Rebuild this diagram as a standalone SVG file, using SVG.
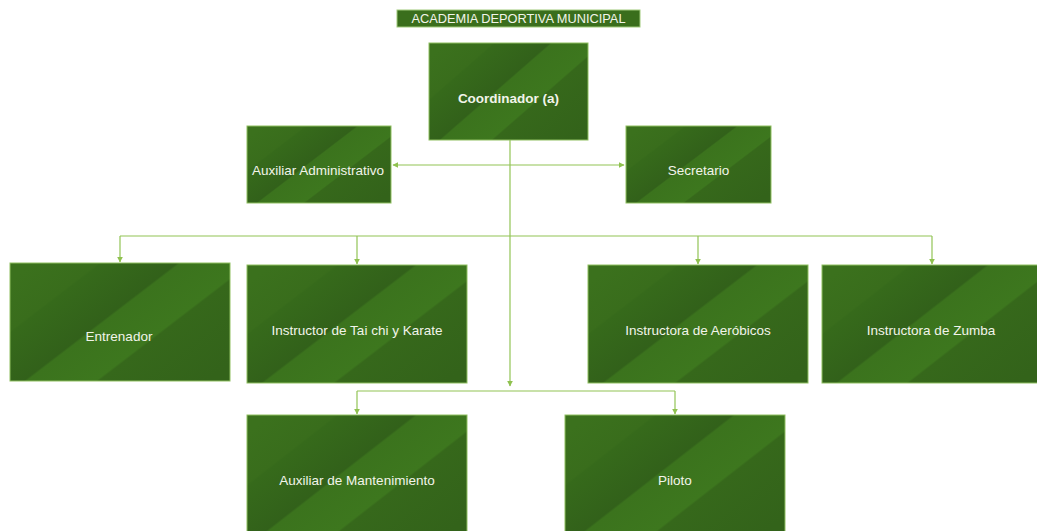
<svg xmlns="http://www.w3.org/2000/svg" width="1037" height="531" viewBox="0 0 1037 531">
<defs>
<linearGradient id="g" x1="0" y1="0.15" x2="1" y2="0.85">
<stop offset="0" stop-color="#3b711d"/>
<stop offset="0.2" stop-color="#396d1c"/>
<stop offset="0.21" stop-color="#366a1b"/>
<stop offset="0.44" stop-color="#32611a"/>
<stop offset="0.45" stop-color="#3b731d"/>
<stop offset="0.66" stop-color="#3d771e"/>
<stop offset="0.67" stop-color="#36681b"/>
<stop offset="1" stop-color="#33631a"/>
</linearGradient>
<marker id="ah" viewBox="0 0 10 10" refX="9" refY="5" markerWidth="5" markerHeight="5" orient="auto-start-reverse">
<path d="M0,0 L10,5 L0,10 Z" fill="#8fc14f"/>
</marker>
<style>
.box{fill:url(#g);stroke:#8fbf60;stroke-width:1}
.t{font-family:"Liberation Sans",Arial,sans-serif;font-size:13.5px;fill:#f2f4ea;text-anchor:middle;dominant-baseline:central}
.c{fill:none;stroke:#92c455;stroke-width:1.2}
</style>
</defs>
<rect width="1037" height="531" fill="#ffffff"/>
<g id="connectors">
<path class="c" d="M510,140 V386" marker-end="url(#ah)"/>
<path class="c" d="M393,165 H624" marker-start="url(#ah)" marker-end="url(#ah)"/>
<path class="c" d="M120,236 H932"/>
<path class="c" d="M120,236 V262" marker-end="url(#ah)"/>
<path class="c" d="M357,236 V264" marker-end="url(#ah)"/>
<path class="c" d="M698,236 V264" marker-end="url(#ah)"/>
<path class="c" d="M932,236 V264" marker-end="url(#ah)"/>
<path class="c" d="M357,391 H675"/>
<path class="c" d="M357,391 V414" marker-end="url(#ah)"/>
<path class="c" d="M675,391 V414" marker-end="url(#ah)"/>
</g>
<g id="title">
<rect x="397" y="10" width="243" height="17" fill="#3a6e1c" stroke="#9fc97a" stroke-width="1"/>
<text class="t" x="518.5" y="18.5" style="font-size:12.8px">ACADEMIA DEPORTIVA MUNICIPAL</text>
</g>
<g id="coordinador">
<rect class="box" x="429" y="43" width="159" height="97"/>
<text class="t" x="508.5" y="98" style="font-weight:bold">Coordinador (a)</text>
</g>
<g id="auxiliar-administrativo">
<rect class="box" x="247" y="126" width="144" height="77"/>
<text class="t" x="318" y="170">Auxiliar Administrativo</text>
</g>
<g id="secretario">
<rect class="box" x="626" y="126" width="145" height="77"/>
<text class="t" x="698.5" y="170">Secretario</text>
</g>
<g id="entrenador">
<rect class="box" x="10" y="263" width="220" height="118"/>
<text class="t" x="119" y="336">Entrenador</text>
</g>
<g id="instructor-tai-chi">
<rect class="box" x="247" y="265" width="220" height="118"/>
<text class="t" x="357" y="330">Instructor de Tai chi y Karate</text>
</g>
<g id="instructora-aerobicos">
<rect class="box" x="588" y="265" width="220" height="118"/>
<text class="t" x="698" y="330">Instructora de Aeróbicos</text>
</g>
<g id="instructora-zumba">
<rect class="box" x="822" y="265" width="216" height="118"/>
<text class="t" x="931" y="330">Instructora de Zumba</text>
</g>
<g id="auxiliar-mantenimiento">
<rect class="box" x="247" y="415" width="220" height="120"/>
<text class="t" x="357" y="480">Auxiliar de Mantenimiento</text>
</g>
<g id="piloto">
<rect class="box" x="565" y="415" width="220" height="120"/>
<text class="t" x="675" y="480">Piloto</text>
</g>
</svg>
